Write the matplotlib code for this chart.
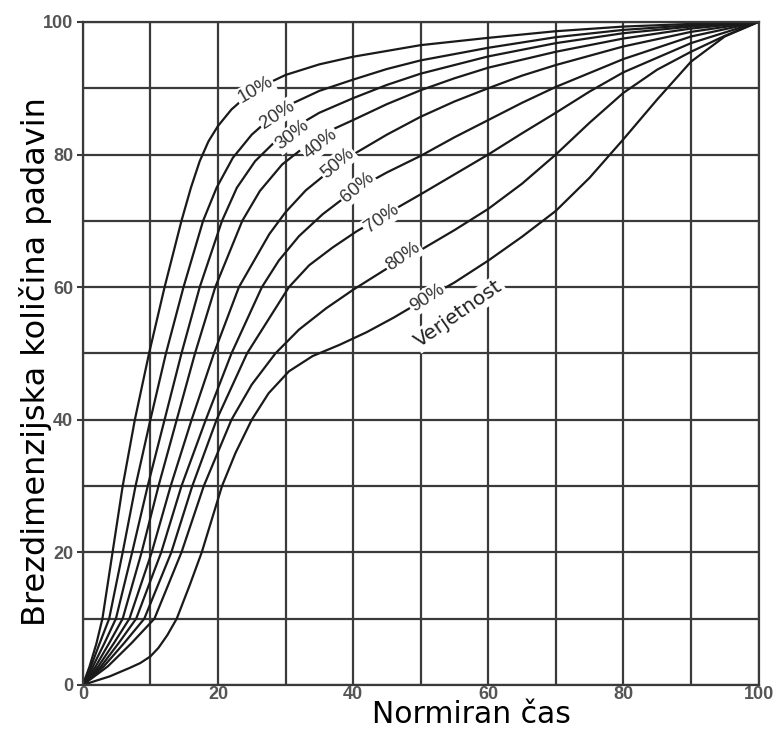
import matplotlib
matplotlib.use("Agg")
import matplotlib.pyplot as plt

# Huff-type curves: normalised time (x) vs dimensionless rainfall (y)
x10 = [0, 1, 2, 2.9, 4.4, 5.9, 7.7, 9.8, 12.1, 14.6, 16, 17.3, 18.6, 20, 22, 24, 26.5, 30, 35, 40, 50, 60, 70, 80, 90, 100]
y10 = [0, 2.8, 6.2, 10, 20, 30, 40, 50, 60, 70, 75, 79, 82, 84.3, 86.8, 88.6, 90.3, 92, 93.6, 94.75, 96.5, 97.6, 98.6, 99.3, 99.7, 100]

x20 = [0, 1.2, 2.5, 3.9, 5.9, 7.8, 10, 12.3, 14.9, 17.8, 19.8, 22.2, 25, 28, 31, 35, 40, 45, 50, 60, 70, 80, 90, 100]
y20 = [0, 2.8, 6.3, 10, 20, 30, 40, 50, 60, 70, 75, 79.5, 83, 85.7, 87.7, 89.6, 91.3, 92.9, 94.2, 96.1, 97.7, 98.8, 99.5, 100]

x30 = [0, 1.5, 3.2, 4.9, 7.3, 9.6, 12.1, 14.6, 17.3, 20.6, 22.8, 25.5, 28.5, 31, 35, 40, 45, 50, 60, 70, 80, 90, 100]
y30 = [0, 2.8, 6.3, 10, 20, 30, 40, 50, 60, 70, 75, 79, 82, 83.9, 86.3, 88.5, 90.5, 92.2, 94.8, 96.8, 98.3, 99.3, 100]

x40 = [0, 1.9, 3.9, 5.9, 8.7, 11.2, 13.9, 16.6, 19.6, 23.6, 26.2, 29.5, 33, 37, 40, 45, 50, 55, 60, 70, 80, 90, 100]
y40 = [0, 2.8, 6.3, 10, 20, 30, 40, 50, 60, 70, 74.5, 78.5, 81.3, 83.8, 85.2, 87.6, 89.7, 91.5, 93.1, 95.5, 97.5, 99, 100]

x50 = [0, 2.3, 4.6, 6.9, 10.2, 13, 16.1, 19.4, 23.1, 27.6, 30, 33, 36.5, 40, 45, 50, 55, 60, 65, 70, 80, 90, 100]
y50 = [0, 2.8, 6.3, 10, 20, 30, 40, 50, 60, 68, 71.3, 74.6, 77.5, 80, 83, 85.7, 88, 90, 91.9, 93.5, 96.3, 98.5, 100]

x60 = [0, 2.7, 5.3, 7.9, 11.6, 14.6, 18.2, 22, 26.5, 29, 32, 35.5, 40, 45, 50, 55, 60, 65, 70, 80, 90, 100]
y60 = [0, 2.8, 6.3, 10, 20, 30, 40, 50, 60, 64, 67.7, 71, 74.5, 77.3, 79.8, 82.6, 85.2, 87.8, 90.2, 94.4, 97.8, 100]

x70 = [0, 3.1, 6.1, 9.1, 13.1, 16.2, 19.8, 24.3, 30.5, 33.5, 37, 40.5, 44, 50, 55, 60, 65, 70, 75, 80, 90, 100]
y70 = [0, 2.8, 6.3, 10, 20, 30, 40, 50, 60, 63.3, 66, 68.4, 70.5, 74, 77, 80, 83.2, 86.3, 89.5, 92.4, 96.8, 100]

x80 = [0, 3.7, 7.2, 10.6, 14.6, 17.9, 22, 25, 28.5, 32, 36, 40, 45, 50, 55, 60, 65, 70, 75, 80, 85, 90, 95, 100]
y80 = [0, 2.8, 6.3, 10, 20, 30, 40, 45.3, 50, 53.6, 56.8, 59.6, 62.8, 65.6, 68.6, 71.8, 75.6, 80, 84.8, 89.3, 92.8, 95.5, 97.9, 100]

x90 = [0, 4, 7, 8.5, 10, 11.2, 12.5, 13.9, 15.8, 17.6, 19.1, 20.6, 22.6, 25, 27.5, 30.5, 34, 38, 42, 46, 50, 55, 60, 65, 70, 75, 80, 85, 90, 95, 100]
y90 = [0, 1.3, 2.6, 3.3, 4.3, 5.6, 7.5, 10, 15, 20, 25, 30, 35, 40, 44, 47.3, 49.6, 51.3, 53.2, 55.4, 57.8, 60.7, 64, 67.6, 71.5, 76.5, 82.3, 88.3, 94, 97.8, 100]

curves = [(x10, y10), (x20, y20), (x30, y30), (x40, y40), (x50, y50),
          (x60, y60), (x70, y70), (x80, y80), (x90, y90)]

# probability labels sitting on the curves
label_text = ['10%', '20%', '30%', '40%', '50%', '60%', '70%', '80%', '90%']
label_x = [25.5, 28.8, 31.0, 35.2, 37.7, 40.6, 44.2, 47.4, 51.0]
label_y = [89.7, 86.0, 82.9, 81.6, 78.7, 75.0, 70.3, 64.6, 58.4]
label_rot = [30, 33, 38, 38, 40, 40, 35, 35, 33]

ticks = [0, 20, 40, 60, 80, 100]
grid_steps = [0, 10, 20, 30, 40, 50, 60, 70, 80, 90, 100]

fig = plt.figure(figsize=(7.74, 7.31), dpi=100)
ax = fig.add_axes([0.107, 0.063, 0.873, 0.907])

# grid
for g in grid_steps:
    ax.axvline(g, color='#3a3a3a', lw=1.6, zorder=1)
    ax.axhline(g, color='#3a3a3a', lw=1.6, zorder=1)

for cx, cy in curves:
    ax.plot(cx, cy, color='#1a1a1a', lw=1.6, zorder=2, solid_joinstyle='round')

for t, lx, ly, r in zip(label_text, label_x, label_y, label_rot):
    ax.text(lx, ly, t, rotation=r, ha='center', va='center', fontsize=13.5,
            family='Liberation Sans', color='#333333', zorder=3,
            bbox=dict(boxstyle='square,pad=0.08', fc='white', ec='none'))

ax.text(55.6, 56.0, 'Verjetnost', rotation=35, ha='center', va='center',
        fontsize=14.5, color='#222222', zorder=3,
        bbox=dict(boxstyle='square,pad=0.1', fc='white', ec='none'))

ax.set_xlim(0, 100)
ax.set_ylim(0, 100)
ax.set_xticks(ticks)
ax.set_yticks(ticks)
ax.set_xticklabels([str(t) for t in ticks], family='Liberation Sans',
                   fontsize=13, fontweight='bold', color='#555555')
ax.set_yticklabels([str(t) for t in ticks], family='Liberation Sans',
                   fontsize=13, fontweight='bold', color='#555555')
ax.tick_params(axis='x', length=0, pad=1)
ax.tick_params(axis='y', length=4, width=1.5, color='#3a3a3a', pad=3)
for s in ax.spines.values():
    s.set_color('#3a3a3a')
    s.set_linewidth(1.6)

fig.text(0.6085, 0.0105, 'Normiran čas', fontsize=21.5, ha='center', va='baseline')
fig.text(0.046, 0.505, 'Brezdimenzijska količina padavin', fontsize=23,
         rotation=90, ha='center', va='center')

fig.savefig('out.png', dpi=100)
